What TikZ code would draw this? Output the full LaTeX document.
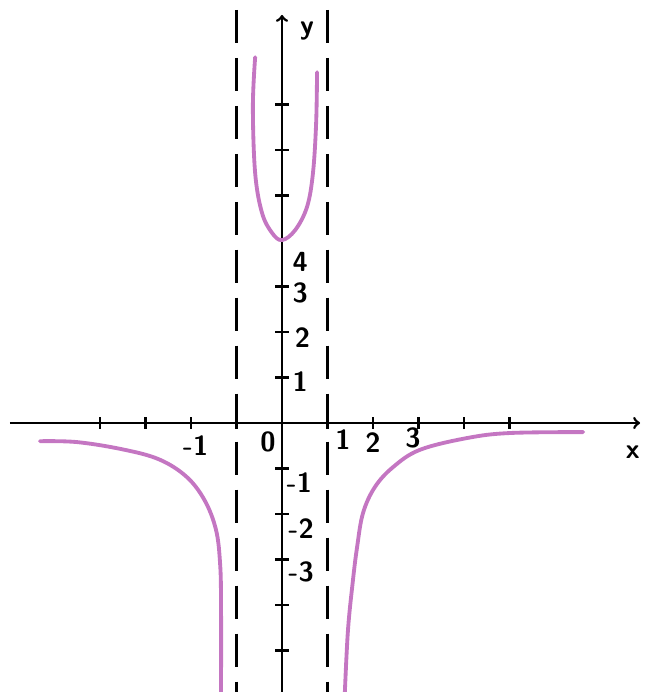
\documentclass[tikz,border=0pt]{standalone}
\usepackage{amssymb,amsmath,tikz}
\definecolor{curvepink}{RGB}{196,118,194}
\tikzset{lbl/.style={font=\sffamily\bfseries\LARGE, inner sep=0pt}}

\begin{document}
\begin{tikzpicture}[line width=1.7pt]
\useasboundingbox (-6.198,-5.912) rectangle (7.956,9.297);
\draw[->] (-5.98,0) -- (7.87,0);
\draw[->] (0,-5.912) -- (0,8.97);
\draw[dash pattern=on 21pt off 9pt] (-1,9.08) -- (-1,-5.912);
\draw[dash pattern=on 21pt off 9pt] (1,9.08) -- (1,-5.912);
% ticks
\foreach \x in {-4,-3,-2,-1,1,2,3,4,5}
  \draw (\x,-0.13) -- (\x,0.13);
\foreach \y in {-5,-4,-3,-2,-1,1,2,3,5,6,7}
  \draw (-0.15,\y) -- (0.15,\y);
% labels
\node[lbl] (xlab) at (7.71,-0.64) {x};
\node[lbl] (ylab) at (0.55,8.62) {y};
\node[lbl] (xm1) at (-1.9,-0.5) {-1};
\node[lbl] (x0) at (-0.31,-0.42) {0};
\node[lbl] (x1) at (1.34,-0.37) {1};
\node[lbl] (x2) at (2.0,-0.42) {2};
\node[lbl] (x3) at (2.88,-0.33) {3};
\node[lbl] (y4) at (0.4,3.54) {4};
\node[lbl] (y3) at (0.4,2.86) {3};
\node[lbl] (y2) at (0.45,1.87) {2};
\node[lbl] (y1) at (0.4,0.9) {1};
\node[lbl] (ym1) at (0.38,-1.3) {-1};
\node[lbl] (ym2) at (0.42,-2.31) {-2};
\node[lbl] (ym3) at (0.42,-3.27) {-3};
% curve
\draw[curvepink, line width=2.4pt, line cap=round] plot[smooth, tension=0.6] coordinates
  {(-5.32,-0.40) (-4.5,-0.42) (-3.5,-0.58) (-2.7,-0.80) (-2.1,-1.18) (-1.7,-1.70)
   (-1.45,-2.35) (-1.36,-3.1) (-1.34,-4.0) (-1.34,-5.95)};
\draw[curvepink, line width=2.4pt, line cap=round] plot[smooth, tension=0.6] coordinates
  {(-0.59,8.04) (-0.64,6.95) (-0.59,5.49) (-0.44,4.62) (-0.22,4.18) (0,4.02) (0.29,4.24)
   (0.55,4.75) (0.68,5.49) (0.75,6.59) (0.77,7.71)};
\draw[curvepink, line width=2.4pt, line cap=round] plot[smooth, tension=0.6] coordinates
  {(1.38,-5.95) (1.45,-4.55) (1.56,-3.45) (1.65,-2.73) (1.78,-1.98) (2.04,-1.41)
   (2.44,-0.97) (3.03,-0.59) (4.07,-0.33) (5.01,-0.22) (6.62,-0.20)};
\end{tikzpicture}
\end{document}
